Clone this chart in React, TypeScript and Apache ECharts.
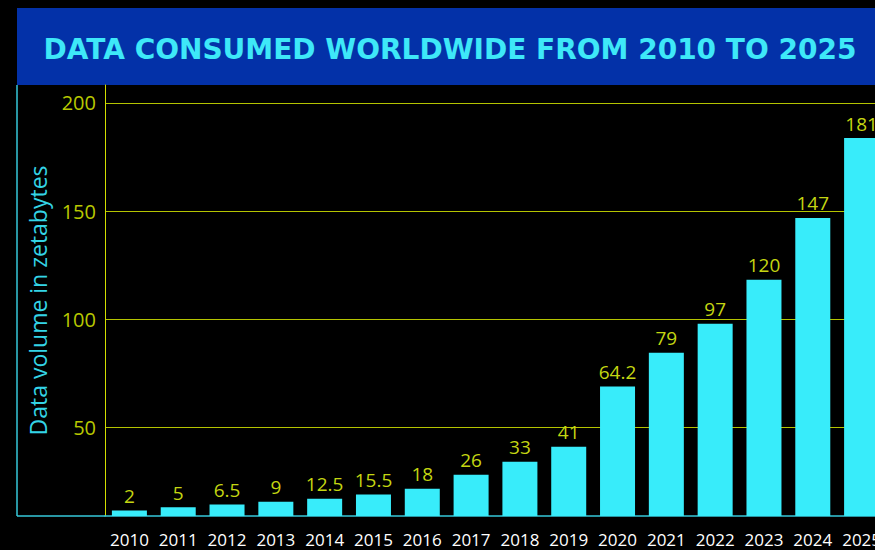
import React, { useEffect, useRef } from "react";
import * as echarts from "echarts";

const years = ["2010", "2011", "2012", "2013", "2014", "2015", "2016", "2017", "2018", "2019", "2020", "2021", "2022", "2023", "2024", "2025"];
// values printed above the bars
const labelValues = [2, 5, 6.5, 9, 12.5, 15.5, 18, 26, 33, 41, 64.2, 79, 97, 120, 147, 181];
// bar heights
const barHeights = [11.7, 13.2, 14.5, 15.8, 17.2, 19.1, 21.8, 28.3, 34.3, 41.2, 69.0, 84.6, 98.0, 118.3, 146.9, 183.8];
const titleText = "DATA CONSUMED WORLDWIDE FROM 2010 TO 2025";
const yAxisName = "Data volume in zetabytes";
const yMin = 9.2;
const yMax = 208.3;

const FONT = "'Open Sans', sans-serif";

export default function App() {
  const ref = useRef<HTMLDivElement>(null);
  useEffect(() => {
    document.body.style.margin = "0";
    document.body.style.background = "#000";
    const chart = echarts.init(ref.current!, null, { renderer: "svg" });
    chart.setOption({
      animation: false,
      backgroundColor: "#000000",
      grid: { left: 105, right: 0, top: 85, bottom: 34, containLabel: false },
      graphic: [
        {
          type: "rect",
          z: 0,
          shape: { x: 17, y: 8, width: 875, height: 77 },
          style: { fill: "#0331a8" },
        },
        {
          type: "text",
          z: 10,
          x: 450,
          y: 49,
          style: {
            text: titleText,
            fill: "#3ee8f8",
            font: "bold 28px 'DejaVu Sans', sans-serif",
            textAlign: "center",
            textVerticalAlign: "middle",
          },
        },
        {
          type: "line",
          z: 10,
          shape: { x1: 17, y1: 85, x2: 17, y2: 516 },
          style: { stroke: "#36c8da", lineWidth: 1.5 },
        },
        {
          type: "line",
          z: 10,
          shape: { x1: 17, y1: 516, x2: 105, y2: 516 },
          style: { stroke: "#36c8da", lineWidth: 1.5 },
        },
      ],
      xAxis: {
        type: "category",
        data: years,
        axisLine: { show: true, lineStyle: { color: "#36c8da", width: 1.5 } },
        axisTick: { show: false },
        axisLabel: { color: "#ffffff", fontFamily: FONT, fontSize: 17, margin: 15, interval: 0 },
        splitLine: { show: false },
      },
      yAxis: {
        type: "value",
        min: yMin,
        max: yMax,
        splitNumber: 4,
        name: yAxisName,
        nameLocation: "middle",
        nameGap: 56,
        nameRotate: 90,
        nameTextStyle: { color: "#34d4e6", fontFamily: FONT, fontSize: 23 },
        axisLine: { show: true, lineStyle: { color: "#d2de00", width: 1 } },
        axisTick: { show: false },
        axisLabel: {
          color: "#b8c800",
          fontFamily: FONT,
          fontSize: 20,
          margin: 9,
          showMinLabel: false,
          showMaxLabel: false,
          padding: [11, 0, 0, 0],
          formatter: (v: number) => (Math.abs(v % 50) < 1e-6 ? String(v) : ""),
        },
        splitLine: { show: true, showMinLine: false, showMaxLine: false, lineStyle: { color: "#b4c400", width: 1 } },
      },
      series: [
        {
          type: "bar",
          data: barHeights,
          barWidth: 35,
          clip: true,
          itemStyle: { color: "#38ecfa" },
          label: {
            show: true,
            position: "top",
            distance: 5,
            color: "#c4d612",
            fontFamily: FONT,
            fontSize: 19,
            formatter: (p: any) => String(labelValues[p.dataIndex]),
          },
        },
      ],
    });
    return () => chart.dispose();
  }, []);
  return (
    <div style={{ width: 875, height: 550, overflow: "hidden", background: "#000" }}>
      <div ref={ref} style={{ width: 886, height: 550 }} />
    </div>
  );
}
